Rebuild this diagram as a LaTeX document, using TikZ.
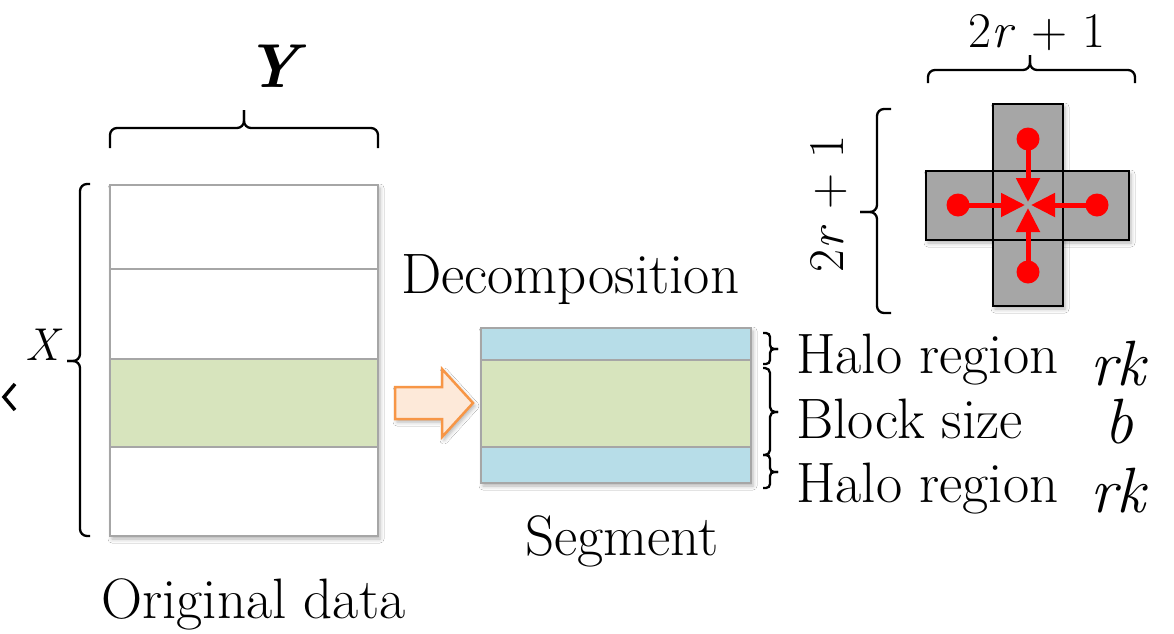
\documentclass[tikz,border=0pt]{standalone}
\usepackage{fontspec}
\usetikzlibrary{arrows.meta,shadows.blur}
\definecolor{gborder}{HTML}{A6A6A6}
\definecolor{blockgreen}{HTML}{D7E4BD}
\definecolor{haloblue}{HTML}{B7DDE8}
\definecolor{arrfill}{HTML}{FDE9D9}
\definecolor{arrdraw}{HTML}{F79646}
\definecolor{stencilgray}{HTML}{A6A6A6}
\definecolor{dotred}{HTML}{FF0000}
\newcommand\BraceH[7][]{%
  \draw[brc,#1] (#2,#5) -- (#2,#6) -- (#4,#6) -- (#4,#7);
  \draw[brc,#1] (#3,#5) -- (#3,#6) -- (#4,#6) -- (#4,#7);}
\newcommand\BraceV[7][]{%
  \draw[brc,#1] (#5,#2) -- (#6,#2) -- (#6,#4) -- (#7,#4);
  \draw[brc,#1] (#5,#3) -- (#6,#3) -- (#6,#4) -- (#7,#4);}
\begin{document}
\begin{tikzpicture}[x=1pt,y=-1pt,
  cell/.style={draw=gborder, line width=2pt, inner sep=0pt, outer sep=0pt, anchor=north west},
  softshadow/.style={blur shadow={shadow xshift=2pt, shadow yshift=-3pt, shadow blur radius=4pt, shadow opacity=30}},
  brc/.style={line width=2.3pt, rounded corners=7pt, line cap=butt},
  lbl/.style={inner sep=0pt, anchor=base west, font=\fontsize{57}{60}\selectfont},
  mlbl/.style={inner sep=0pt, anchor=base west, font=\itshape\fontsize{64}{68}\selectfont},
  dot/.style={circle, fill=dotred, minimum size=23pt, inner sep=0pt, outer sep=0pt},
  redarrow/.style={draw=dotred, line width=5pt, -{Triangle[length=24pt,width=23pt]}}
]
\useasboundingbox (0,0) rectangle (1174,633);
\fill[white] (0,0) rectangle (1174,633);

% ---- original data ----
\node[cell, fill=white, softshadow, minimum width=268pt, minimum height=351pt] (data) at (110,185) {};
\node[cell, fill=white, minimum width=268pt, minimum height=84pt] (d1) at (110,185) {};
\node[cell, fill=white, minimum width=268pt, minimum height=90pt] (d2) at (110,269) {};
\node[cell, fill=blockgreen, minimum width=268pt, minimum height=88pt] (d3) at (110,359) {};
\node[cell, fill=white, minimum width=268pt, minimum height=89pt] (d4) at (110,447) {};

% ---- segment ----
\node[cell, fill=white, softshadow, minimum width=270pt, minimum height=155pt] (seg) at (481,328) {};
\node[cell, fill=haloblue, minimum width=270pt, minimum height=32pt] (s1) at (481,328) {};
\node[cell, fill=blockgreen, minimum width=270pt, minimum height=87pt] (s2) at (481,360) {};
\node[cell, fill=haloblue, minimum width=270pt, minimum height=36pt] (s3) at (481,447) {};

% ---- orange arrow ----
\draw[line width=2.5pt, draw=arrdraw, fill=arrfill, softshadow, line join=miter]
  (395,387) -- (442,387) -- (442,369) -- (473,403) -- (442,437) -- (442,419) -- (395,419) -- cycle;

% ---- braces ----
\BraceH{110}{378}{244}{148}{128}{110}
\BraceV{184}{536}{361}{90}{80}{67}
\BraceV[rounded corners=4pt]{333}{364}{349}{763}{770}{778}
\BraceV[rounded corners=5pt]{368}{455}{412}{763}{770}{778}
\BraceV[rounded corners=4pt]{455}{488}{472}{763}{770}{778}
\BraceH{928}{1135}{1030}{83}{70}{55}
\BraceV{109}{313}{212}{891}{877}{860}

% ---- small chevron ----
\draw[line width=3.5pt, line join=miter] (15,384) -- (4,397) -- (15,410);

% ---- stencil cross ----
\path[softshadow] (926,171) rectangle (1129,240);
\path[softshadow] (993,104) rectangle (1063,306);
\fill[stencilgray] (926,171) rectangle (1129,240);
\fill[stencilgray] (993,104) rectangle (1063,306);
\draw[line width=2pt] (926,171) rectangle (1129,240);
\draw[line width=2pt] (993,104) rectangle (1063,306);

\node[dot] (pt) at (1028,139) {};
\node[dot] (pl) at (958,205) {};
\node[dot] (pr) at (1097,205) {};
\node[dot] (pb) at (1028,272) {};
\coordinate (ct) at (1028,202);
\coordinate (cb) at (1028,208);
\coordinate (cl) at (1025,205);
\coordinate (cr) at (1031,205);
\draw[redarrow] (pt.center) -- (ct);
\draw[redarrow] (pb.center) -- (cb);
\draw[redarrow] (pl.center) -- (cl);
\draw[redarrow] (pr.center) -- (cr);

% ---- texts ----
\node[lbl] (tdec) at (401,293) {Decomposition};
\node[lbl] (torig) at (101,618) {Original data};
\node[lbl] (tseg) at (525,555) {Segment};
\node[lbl] (th1) at (796,373) {Halo region};
\node[lbl] (tbs) at (796,438) {Block size};
\node[lbl] (th2) at (796,502) {Halo region};
\node[mlbl] (rk1) at (1090,385) {rk};
\node[mlbl] (bsym) at (1104,443) {b};
\node[mlbl] (rk2) at (1090,512) {rk};
\node[inner sep=0pt, anchor=base, font=\bfseries\itshape\fontsize{62}{66}\selectfont] (ty) at (272,87) {Y};
\node[inner sep=0pt, anchor=base west, font=\itshape\fontsize{46}{50}\selectfont] (tx) at (25,360) {X};
\node[inner sep=0pt, anchor=base, font=\fontsize{50}{54}\selectfont] (t2a) at (1037,47) {2\textit{r} + 1};
\node[inner sep=0pt, anchor=base, rotate=90, font=\fontsize{50}{54}\selectfont] (t2b) at (843,204) {2\textit{r} + 1};
\end{tikzpicture}
\end{document}
